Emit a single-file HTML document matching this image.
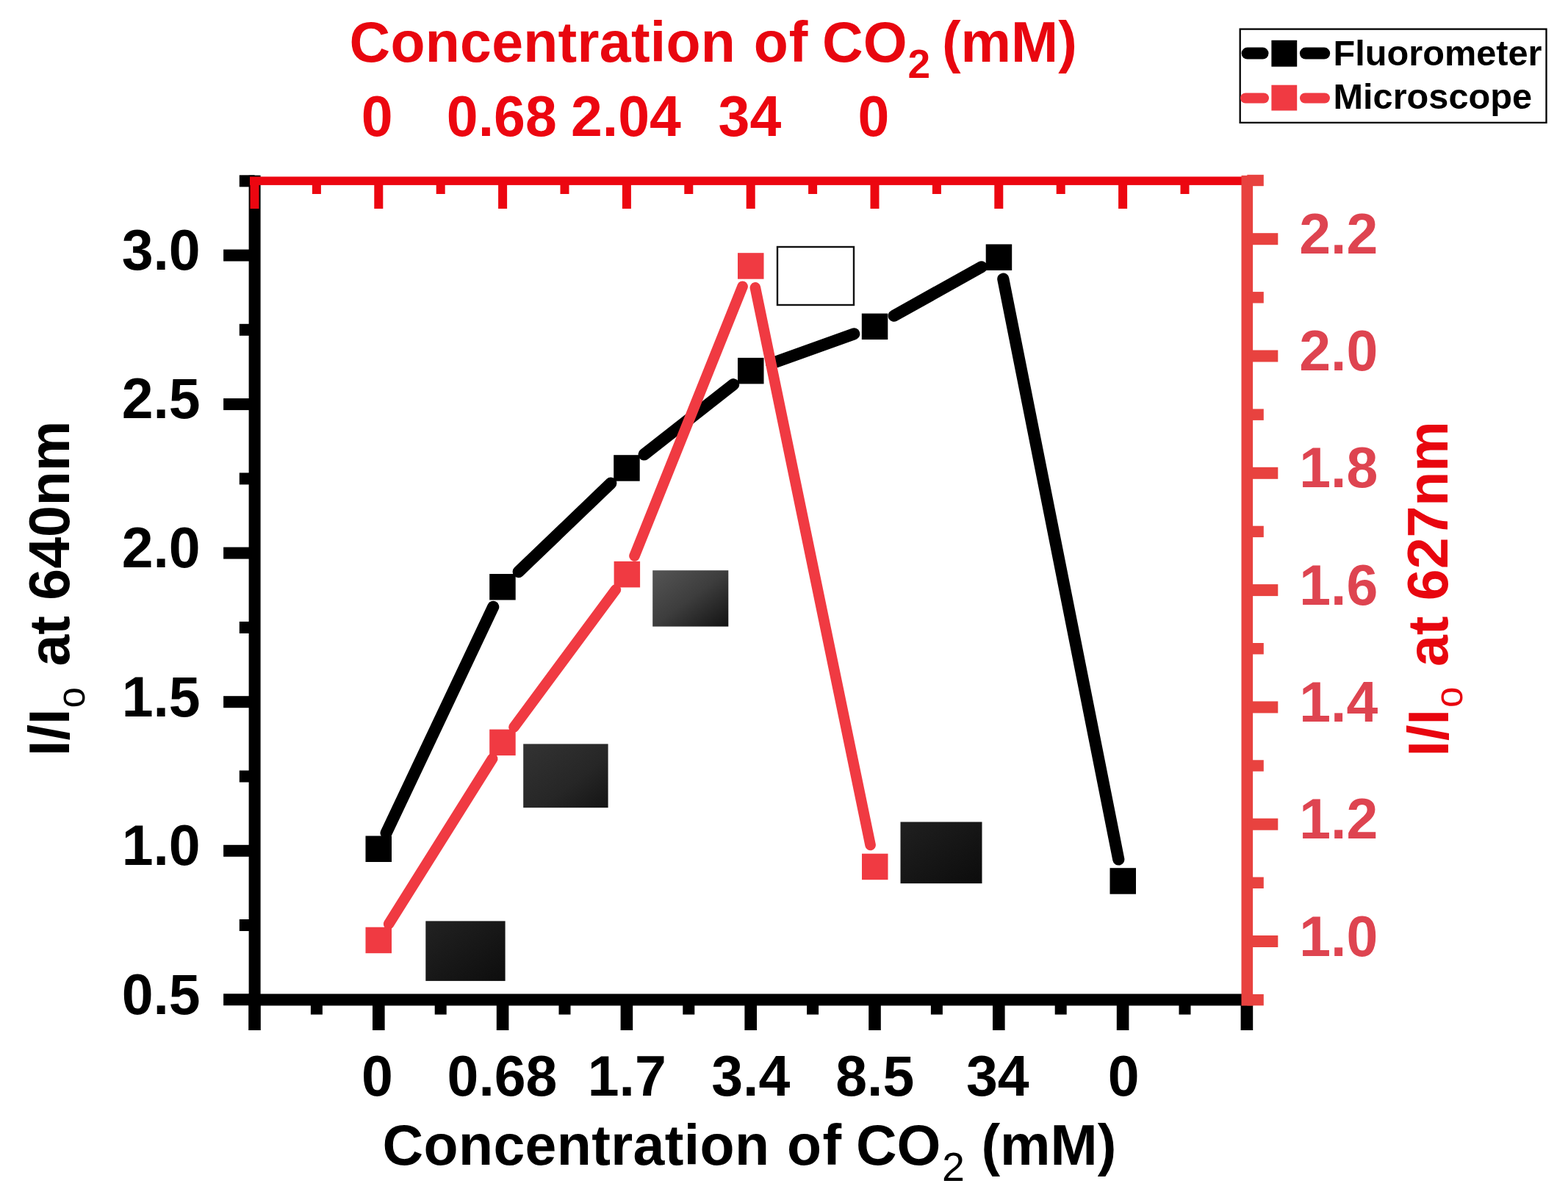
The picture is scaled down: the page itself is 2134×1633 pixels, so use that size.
<!DOCTYPE html><html><head><meta charset="utf-8"><title>Chart</title><style>html,body{margin:0;padding:0;background:#fff;width:2134px;height:1633px;overflow:hidden}svg{display:block}text{font-family:'Liberation Sans', Arial, sans-serif}</style></head><body>
<svg width="2134" height="1633" viewBox="0 0 2134 1633">
<rect width="2134" height="1633" fill="#fff"/>
<defs>
<linearGradient id="g1" x1="0" y1="0" x2="1" y2="1"><stop offset="0" stop-color="#222"/><stop offset="1" stop-color="#0d0d0d"/></linearGradient>
<linearGradient id="g2" x1="0" y1="0" x2="1" y2="1"><stop offset="0" stop-color="#333"/><stop offset="0.6" stop-color="#262626"/><stop offset="1" stop-color="#141414"/></linearGradient>
<linearGradient id="g3" x1="0" y1="0" x2="1" y2="1"><stop offset="0" stop-color="#555"/><stop offset="0.5" stop-color="#3d3d3d"/><stop offset="1" stop-color="#121212"/></linearGradient>
<linearGradient id="g4" x1="0" y1="0" x2="1" y2="1"><stop offset="0" stop-color="#202020"/><stop offset="1" stop-color="#0c0c0c"/></linearGradient>
</defs>
<rect x="579.3" y="1253.4" width="108.3" height="81.5" fill="url(#g1)"/>
<rect x="712.2" y="1012.4" width="115.4" height="86.7" fill="url(#g2)"/>
<rect x="888.2" y="776.2" width="103.1" height="76.4" fill="url(#g3)"/>
<rect x="1225.5" y="1118.5" width="111.0" height="83.7" fill="url(#g4)"/>
<rect x="1058" y="336" width="104" height="79" fill="#fff" stroke="#111" stroke-width="2.4"/>
<rect x="338.6" y="238.6" width="16.0" height="1130.0" fill="#000"/>
<rect x="304.1" y="1352.3" width="42.5" height="16.0" fill="#000"/>
<rect x="304.1" y="1149.8" width="42.5" height="16.0" fill="#000"/>
<rect x="304.1" y="947.2" width="42.5" height="16.0" fill="#000"/>
<rect x="304.1" y="744.6" width="42.5" height="16.0" fill="#000"/>
<rect x="304.1" y="542.1" width="42.5" height="16.0" fill="#000"/>
<rect x="304.1" y="339.5" width="42.5" height="16.0" fill="#000"/>
<rect x="325.8" y="1251.0" width="20.8" height="16.0" fill="#000"/>
<rect x="325.8" y="1048.5" width="20.8" height="16.0" fill="#000"/>
<rect x="325.8" y="845.9" width="20.8" height="16.0" fill="#000"/>
<rect x="325.8" y="643.4" width="20.8" height="16.0" fill="#000"/>
<rect x="325.8" y="440.8" width="20.8" height="16.0" fill="#000"/>
<rect x="325.8" y="238.3" width="20.8" height="16.0" fill="#000"/>
<rect x="338.6" y="1352.5" width="1366.5" height="16.0" fill="#000"/>
<rect x="338.2" y="1360.5" width="16.6" height="41.5" fill="#000"/>
<rect x="507.0" y="1360.5" width="16.6" height="41.5" fill="#000"/>
<rect x="675.8" y="1360.5" width="16.6" height="41.5" fill="#000"/>
<rect x="844.6" y="1360.5" width="16.6" height="41.5" fill="#000"/>
<rect x="1013.4" y="1360.5" width="16.6" height="41.5" fill="#000"/>
<rect x="1182.2" y="1360.5" width="16.6" height="41.5" fill="#000"/>
<rect x="1351.0" y="1360.5" width="16.6" height="41.5" fill="#000"/>
<rect x="1519.8" y="1360.5" width="16.6" height="41.5" fill="#000"/>
<rect x="1688.6" y="1360.5" width="16.6" height="41.5" fill="#000"/>
<rect x="422.9" y="1360.5" width="16.0" height="20.1" fill="#000"/>
<rect x="591.7" y="1360.5" width="16.0" height="20.1" fill="#000"/>
<rect x="760.5" y="1360.5" width="16.0" height="20.1" fill="#000"/>
<rect x="929.3" y="1360.5" width="16.0" height="20.1" fill="#000"/>
<rect x="1098.1" y="1360.5" width="16.0" height="20.1" fill="#000"/>
<rect x="1266.9" y="1360.5" width="16.0" height="20.1" fill="#000"/>
<rect x="1435.7" y="1360.5" width="16.0" height="20.1" fill="#000"/>
<rect x="1604.5" y="1360.5" width="16.0" height="20.1" fill="#000"/>
<rect x="340.0" y="240.4" width="1350.0" height="11.5" fill="#ec0610"/>
<rect x="340.5" y="246.2" width="12.0" height="37.8" fill="#ec0610"/>
<rect x="509.3" y="246.2" width="12.0" height="37.8" fill="#ec0610"/>
<rect x="678.1" y="246.2" width="12.0" height="37.8" fill="#ec0610"/>
<rect x="846.9" y="246.2" width="12.0" height="37.8" fill="#ec0610"/>
<rect x="1015.7" y="246.2" width="12.0" height="37.8" fill="#ec0610"/>
<rect x="1184.5" y="246.2" width="12.0" height="37.8" fill="#ec0610"/>
<rect x="1353.3" y="246.2" width="12.0" height="37.8" fill="#ec0610"/>
<rect x="1522.1" y="246.2" width="12.0" height="37.8" fill="#ec0610"/>
<rect x="1690.9" y="246.2" width="12.0" height="37.8" fill="#ec0610"/>
<rect x="424.9" y="246.2" width="12.0" height="17.8" fill="#ec0610"/>
<rect x="593.7" y="246.2" width="12.0" height="17.8" fill="#ec0610"/>
<rect x="762.5" y="246.2" width="12.0" height="17.8" fill="#ec0610"/>
<rect x="931.3" y="246.2" width="12.0" height="17.8" fill="#ec0610"/>
<rect x="1100.1" y="246.2" width="12.0" height="17.8" fill="#ec0610"/>
<rect x="1268.9" y="246.2" width="12.0" height="17.8" fill="#ec0610"/>
<rect x="1437.7" y="246.2" width="12.0" height="17.8" fill="#ec0610"/>
<rect x="1606.5" y="246.2" width="12.0" height="17.8" fill="#ec0610"/>
<rect x="1689.5" y="238.8" width="15.6" height="1129.8" fill="#e8423f"/>
<rect x="1697.3" y="1273.0" width="42.0" height="16.0" fill="#e8423f"/>
<rect x="1697.3" y="1113.7" width="42.0" height="16.0" fill="#e8423f"/>
<rect x="1697.3" y="954.4" width="42.0" height="16.0" fill="#e8423f"/>
<rect x="1697.3" y="795.1" width="42.0" height="16.0" fill="#e8423f"/>
<rect x="1697.3" y="635.8" width="42.0" height="16.0" fill="#e8423f"/>
<rect x="1697.3" y="476.5" width="42.0" height="16.0" fill="#e8423f"/>
<rect x="1697.3" y="317.2" width="42.0" height="16.0" fill="#e8423f"/>
<rect x="1697.3" y="1353.0" width="22.5" height="15.4" fill="#e8423f"/>
<rect x="1697.3" y="1193.6" width="22.5" height="15.4" fill="#e8423f"/>
<rect x="1697.3" y="1034.3" width="22.5" height="15.4" fill="#e8423f"/>
<rect x="1697.3" y="875.0" width="22.5" height="15.4" fill="#e8423f"/>
<rect x="1697.3" y="715.7" width="22.5" height="15.4" fill="#e8423f"/>
<rect x="1697.3" y="556.5" width="22.5" height="15.4" fill="#e8423f"/>
<rect x="1697.3" y="397.1" width="22.5" height="15.4" fill="#e8423f"/>
<rect x="1697.3" y="237.8" width="22.5" height="15.4" fill="#e8423f"/>
<line x1="525.6" y1="1133.6" x2="671.2" y2="825.9" stroke="#000" stroke-width="16.2" stroke-linecap="round"/>
<line x1="705.7" y1="778.1" x2="831.3" y2="657.7" stroke="#000" stroke-width="16.2" stroke-linecap="round"/>
<line x1="876.6" y1="618.5" x2="998.2" y2="523.2" stroke="#000" stroke-width="16.2" stroke-linecap="round"/>
<line x1="1050.0" y1="494.6" x2="1162.3" y2="454.4" stroke="#000" stroke-width="16.2" stroke-linecap="round"/>
<line x1="1216.7" y1="429.7" x2="1335.8" y2="363.3" stroke="#000" stroke-width="16.2" stroke-linecap="round"/>
<line x1="1365.3" y1="379.6" x2="1522.3" y2="1169.5" stroke="#000" stroke-width="16.2" stroke-linecap="round"/>
<rect x="497.5" y="1137.5" width="35.5" height="35.5" fill="#000"/>
<rect x="666.2" y="781.0" width="35.5" height="35.5" fill="#000"/>
<rect x="835.2" y="619.2" width="35.5" height="35.5" fill="#000"/>
<rect x="1004.0" y="486.9" width="35.5" height="35.5" fill="#000"/>
<rect x="1172.8" y="426.6" width="35.5" height="35.5" fill="#000"/>
<rect x="1341.7" y="332.4" width="35.5" height="35.5" fill="#000"/>
<rect x="1510.5" y="1181.2" width="35.5" height="35.5" fill="#000"/>
<line x1="529.1" y1="1257.4" x2="670.2" y2="1032.4" stroke="#f03a42" stroke-width="14.6" stroke-linecap="round"/>
<line x1="699.5" y1="989.5" x2="837.9" y2="802.5" stroke="#f03a42" stroke-width="14.6" stroke-linecap="round"/>
<line x1="863.5" y1="756.5" x2="1010.6" y2="389.8" stroke="#f03a42" stroke-width="14.6" stroke-linecap="round"/>
<line x1="1027.9" y1="391.4" x2="1184.6" y2="1150.0" stroke="#f03a42" stroke-width="14.6" stroke-linecap="round"/>
<rect x="497.5" y="1261.7" width="35.5" height="35.5" fill="#f03a42"/>
<rect x="666.2" y="992.6" width="35.5" height="35.5" fill="#f03a42"/>
<rect x="835.6" y="763.9" width="35.5" height="35.5" fill="#f03a42"/>
<rect x="1004.0" y="344.2" width="35.5" height="35.5" fill="#f03a42"/>
<rect x="1173.0" y="1161.7" width="35.5" height="35.5" fill="#f03a42"/>
<text x="272.7" y="1379.6" font-size="77" font-weight="bold" fill="#000" text-anchor="end">0.5</text>
<text x="272.7" y="1177.0" font-size="77" font-weight="bold" fill="#000" text-anchor="end">1.0</text>
<text x="272.7" y="974.5" font-size="77" font-weight="bold" fill="#000" text-anchor="end">1.5</text>
<text x="272.7" y="771.9" font-size="77" font-weight="bold" fill="#000" text-anchor="end">2.0</text>
<text x="272.7" y="569.4" font-size="77" font-weight="bold" fill="#000" text-anchor="end">2.5</text>
<text x="272.7" y="366.8" font-size="77" font-weight="bold" fill="#000" text-anchor="end">3.0</text>
<text x="1768.3" y="1300.5" font-size="77" font-weight="bold" fill="#de4450" text-anchor="start">1.0</text>
<text x="1768.3" y="1141.2" font-size="77" font-weight="bold" fill="#de4450" text-anchor="start">1.2</text>
<text x="1768.3" y="981.9" font-size="77" font-weight="bold" fill="#de4450" text-anchor="start">1.4</text>
<text x="1768.3" y="822.6" font-size="77" font-weight="bold" fill="#de4450" text-anchor="start">1.6</text>
<text x="1768.3" y="663.3" font-size="77" font-weight="bold" fill="#de4450" text-anchor="start">1.8</text>
<text x="1768.3" y="504.0" font-size="77" font-weight="bold" fill="#de4450" text-anchor="start">2.0</text>
<text x="1768.3" y="344.7" font-size="77" font-weight="bold" fill="#de4450" text-anchor="start">2.2</text>
<text x="513.5" y="1491.3" font-size="77" font-weight="bold" fill="#000" text-anchor="middle">0</text>
<text x="683.5" y="1491.3" font-size="77" font-weight="bold" fill="#000" text-anchor="middle">0.68</text>
<text x="853.3" y="1491.3" font-size="77" font-weight="bold" fill="#000" text-anchor="middle">1.7</text>
<text x="1021.7" y="1491.3" font-size="77" font-weight="bold" fill="#000" text-anchor="middle">3.4</text>
<text x="1190.7" y="1491.3" font-size="77" font-weight="bold" fill="#000" text-anchor="middle">8.5</text>
<text x="1357.8" y="1491.3" font-size="77" font-weight="bold" fill="#000" text-anchor="middle">34</text>
<text x="1529.1" y="1491.3" font-size="77" font-weight="bold" fill="#000" text-anchor="middle">0</text>
<text x="513.1" y="184.5" font-size="77" font-weight="bold" fill="#ec0610" text-anchor="middle">0</text>
<text x="682.8" y="184.5" font-size="77" font-weight="bold" fill="#ec0610" text-anchor="middle">0.68</text>
<text x="851.9" y="184.5" font-size="77" font-weight="bold" fill="#ec0610" text-anchor="middle">2.04</text>
<text x="1020.4" y="184.5" font-size="77" font-weight="bold" fill="#ec0610" text-anchor="middle">34</text>
<text x="1188.9" y="184.5" font-size="77" font-weight="bold" fill="#ec0610" text-anchor="middle">0</text>
<text x="475.5" y="83.5" font-size="77" font-weight="bold" fill="#e8060f" text-anchor="start" letter-spacing="0.29">Concentration</text>
<text x="1025.8" y="83.5" font-size="77" font-weight="bold" fill="#e8060f" text-anchor="start" letter-spacing="1">of</text>
<text x="1119.1" y="83.5" font-size="77" font-weight="bold" fill="#e8060f" text-anchor="start">CO</text>
<text x="1235.6" y="105.6" font-size="55" font-weight="bold" fill="#e8060f" text-anchor="start">2</text>
<text x="1281.9" y="83.5" font-size="77" font-weight="bold" fill="#e8060f" text-anchor="start">(mM)</text>
<text x="520.6" y="1584.5" font-size="77" font-weight="bold" fill="#000" text-anchor="start" letter-spacing="0.375">Concentration</text>
<text x="1071.0" y="1584.5" font-size="77" font-weight="bold" fill="#000" text-anchor="start" letter-spacing="1.5">of</text>
<text x="1165.0" y="1584.5" font-size="77" font-weight="bold" fill="#000" text-anchor="start">CO</text>
<text x="1281.9" y="1607.4" font-size="55.5" font-weight="normal" fill="#000" text-anchor="start">2</text>
<text x="1335.4" y="1584.5" font-size="77" font-weight="bold" fill="#000" text-anchor="start">(mM)</text>
<text transform="translate(94.3,1028.9) rotate(-90)" x="0" y="0" font-size="77" font-weight="bold" fill="#000">I/I</text>
<text transform="translate(115.3,963.4) rotate(-90)" x="0" y="0" font-size="51" font-weight="normal" fill="#000">o</text>
<text transform="translate(93.5,906.5) rotate(-90)" x="0" y="0" font-size="77" font-weight="bold" fill="#000">at 640nm</text>
<text transform="translate(1970.5,1029.4) rotate(-90)" x="0" y="0" font-size="77" font-weight="bold" fill="#e8060f">I/I</text>
<text transform="translate(1989.6,962.9) rotate(-90)" x="0" y="0" font-size="51" font-weight="normal" fill="#e8060f">o</text>
<text transform="translate(1969.7,907.0) rotate(-90)" x="0" y="0" font-size="77" font-weight="bold" fill="#e8060f">at 627nm</text>
<rect x="1687.7" y="39.6" width="416.8" height="127.3" fill="#fff" stroke="#000" stroke-width="2.3"/>
<line x1="1697.6" y1="72.6" x2="1718.5" y2="72.6" stroke="#000" stroke-width="16" stroke-linecap="round"/>
<line x1="1776.9" y1="72.6" x2="1802.2" y2="72.6" stroke="#000" stroke-width="16" stroke-linecap="round"/>
<rect x="1730.4" y="54.8" width="34.8" height="35.9" fill="#000"/>
<line x1="1695" y1="133.5" x2="1720" y2="133.5" stroke="#f03a42" stroke-width="14" stroke-linecap="round"/>
<line x1="1776" y1="133.5" x2="1803" y2="133.5" stroke="#f03a42" stroke-width="14" stroke-linecap="round"/>
<rect x="1730.4" y="115.7" width="34.8" height="34.8" fill="#f03a42"/>
<text x="1814.5" y="88.5" font-size="48.7" font-weight="bold" fill="#000" text-anchor="start">Fluorometer</text>
<text x="1814.5" y="148.3" font-size="48.7" font-weight="bold" fill="#000" text-anchor="start">Microscope</text>
</svg></body></html>
